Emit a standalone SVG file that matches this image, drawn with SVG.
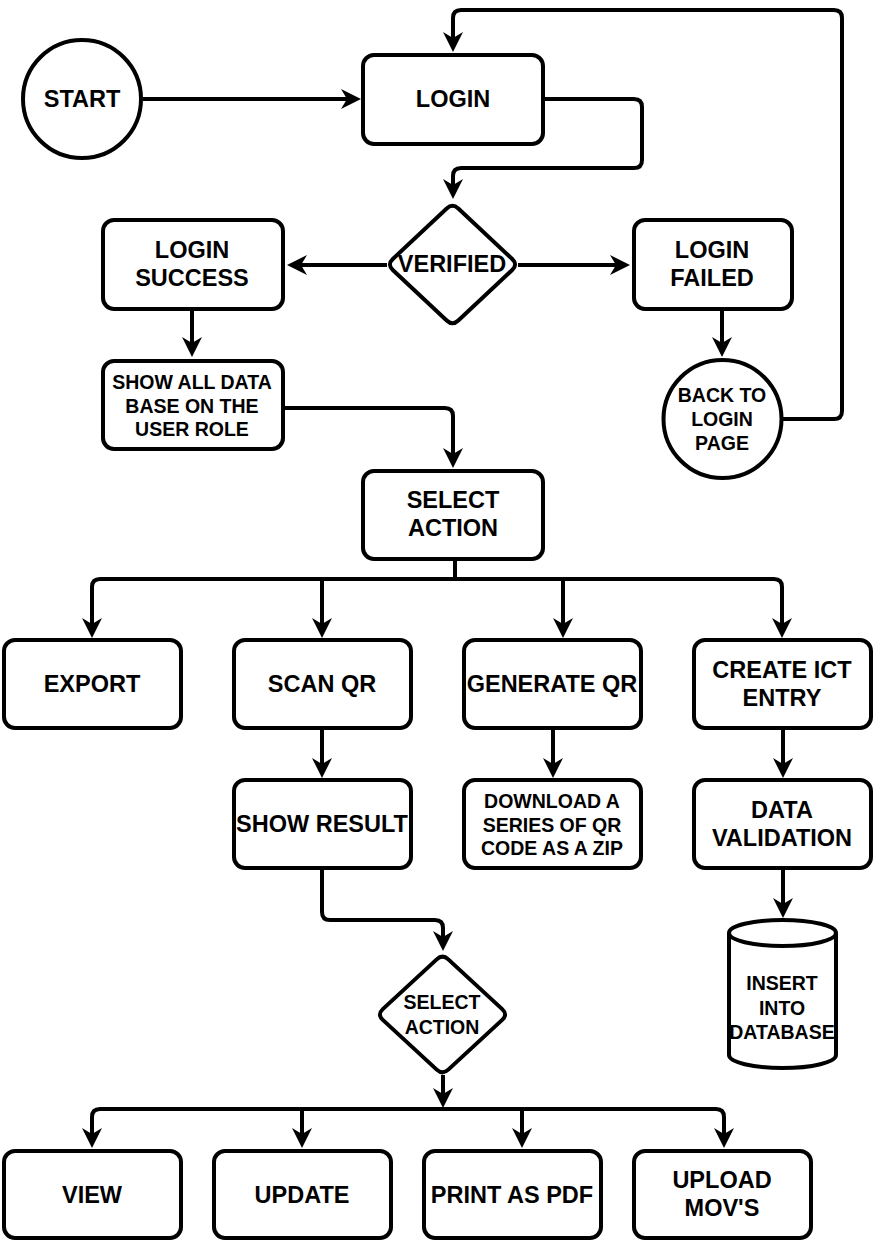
<svg xmlns="http://www.w3.org/2000/svg" width="875" height="1242" viewBox="0 0 875 1242">
<style>
.n{fill:#fff;stroke:#000;stroke-width:4}
.e{fill:none;stroke:#000;stroke-width:4}
text{font-family:"Liberation Sans",Arial,Helvetica,sans-serif;font-weight:bold;fill:#000;text-anchor:middle}
.t{font-size:23.5px}
.s{font-size:19.5px}
</style>
<defs>
<marker id="arr" markerUnits="userSpaceOnUse" viewBox="-14 -11 24 22" markerWidth="24" markerHeight="22" refX="0" refY="0" orient="auto">
<path d="M8,0 L-12,-10 L-6,0 L-12,10 Z" fill="#000"/>
</marker>
</defs>
<rect width="875" height="1242" fill="#fff"/>
<g id="connectors">
<path class="e" d="M143,99 H353" marker-end="url(#arr)"/>
<path class="e" d="M543,99 H634 Q642,99 642,107 V160 Q642,168 634,168 H461 Q453,168 453,176 V191" marker-end="url(#arr)"/>
<path class="e" d="M387,265 H295" marker-end="url(#arr)"/>
<path class="e" d="M518,265 H622" marker-end="url(#arr)"/>
<path class="e" d="M192,309 V349" marker-end="url(#arr)"/>
<path class="e" d="M722,309 V349" marker-end="url(#arr)"/>
<path class="e" d="M781,419 H834 Q842,419 842,411 V18 Q842,10 834,10 H461 Q453,10 453,18 V44" marker-end="url(#arr)"/>
<path class="e" d="M283,408 H445 Q453,408 453,416 V460" marker-end="url(#arr)"/>
<path class="e" d="M455,559 V579 H100 Q92,579 92,587 V630" marker-end="url(#arr)"/>
<path class="e" d="M322,579 V630" marker-end="url(#arr)"/>
<path class="e" d="M563,579 V630" marker-end="url(#arr)"/>
<path class="e" d="M455,559 V579 H774 Q782,579 782,587 V630" marker-end="url(#arr)"/>
<path class="e" d="M322,728 V770" marker-end="url(#arr)"/>
<path class="e" d="M553,728 V770" marker-end="url(#arr)"/>
<path class="e" d="M783,728 V770" marker-end="url(#arr)"/>
<path class="e" d="M322,868 V912 Q322,920 330,920 H435 Q443,920 443,928 V943" marker-end="url(#arr)"/>
<path class="e" d="M783,868 V910" marker-end="url(#arr)"/>
<path class="e" d="M443,1075 V1100" marker-end="url(#arr)"/>
<path class="e" d="M443,1109 H100 Q92,1109 92,1117 V1140" marker-end="url(#arr)"/>
<path class="e" d="M302,1109 V1140" marker-end="url(#arr)"/>
<path class="e" d="M522,1109 V1140" marker-end="url(#arr)"/>
<path class="e" d="M443,1109 H716 Q724,1109 724,1117 V1140" marker-end="url(#arr)"/>
</g>
<g id="start">
<circle class="n" cx="82" cy="99" r="59"/>
<text class="t" x="82" y="107.4">START</text>
</g>
<g id="login">
<rect class="n" x="363" y="55" width="180" height="89" rx="11"/>
<text class="t" x="453" y="107.4">LOGIN</text>
</g>
<g id="verified">
<path class="n" d="M446.7,208.5 Q452.5,203 458.3,208.5 L512.2,259 Q518,264.5 512.2,270 L458.3,320.5 Q452.5,326 446.7,320.5 L392.8,270 Q387,264.5 392.8,259 Z"/>
<text class="t" x="452" y="272.4">VERIFIED</text>
</g>
<g id="login-success">
<rect class="n" x="103" y="220" width="180" height="89" rx="11"/>
<text class="t" x="192" y="258.4">LOGIN</text>
<text class="t" x="192" y="286.4">SUCCESS</text>
</g>
<g id="login-failed">
<rect class="n" x="634" y="220" width="158" height="89" rx="11"/>
<text class="t" x="712" y="258.4">LOGIN</text>
<text class="t" x="712" y="286.4">FAILED</text>
</g>
<g id="back-to-login">
<circle class="n" cx="722.5" cy="419" r="59"/>
<text class="s" x="722" y="402">BACK TO</text>
<text class="s" x="722" y="426">LOGIN</text>
<text class="s" x="722" y="450">PAGE</text>
</g>
<g id="show-all">
<rect class="n" x="103" y="361" width="180" height="88" rx="11"/>
<text class="s" x="192" y="389">SHOW ALL DATA</text>
<text class="s" x="192" y="412.5">BASE ON THE</text>
<text class="s" x="192" y="436">USER ROLE</text>
</g>
<g id="select-action">
<rect class="n" x="363" y="471" width="180" height="88" rx="11"/>
<text class="t" x="453" y="508.4">SELECT</text>
<text class="t" x="453" y="536.4">ACTION</text>
</g>
<g id="export">
<rect class="n" x="4" y="640" width="177" height="88" rx="11"/>
<text class="t" x="92" y="692.4">EXPORT</text>
</g>
<g id="scan-qr">
<rect class="n" x="234" y="640" width="177" height="88" rx="11"/>
<text class="t" x="322" y="692.4">SCAN QR</text>
</g>
<g id="generate-qr">
<rect class="n" x="464" y="640" width="177" height="88" rx="11"/>
<text class="t" x="552" y="692.4">GENERATE QR</text>
</g>
<g id="create-ict">
<rect class="n" x="694" y="640" width="177" height="88" rx="11"/>
<text class="t" x="782" y="678.4">CREATE ICT</text>
<text class="t" x="782" y="706.4">ENTRY</text>
</g>
<g id="show-result">
<rect class="n" x="234" y="780" width="177" height="88" rx="11"/>
<text class="t" x="322" y="832.4">SHOW RESULT</text>
</g>
<g id="download">
<rect class="n" x="464" y="780" width="177" height="88" rx="11"/>
<text class="s" x="552" y="808">DOWNLOAD A</text>
<text class="s" x="552" y="832">SERIES OF QR</text>
<text class="s" x="552" y="855">CODE AS A ZIP</text>
</g>
<g id="data-validation">
<rect class="n" x="694" y="780" width="177" height="88" rx="11"/>
<text class="t" x="782" y="818.4">DATA</text>
<text class="t" x="782" y="846.4">VALIDATION</text>
</g>
<g id="insert-db">
<path class="n" d="M729,933 A53.5,13 0 0 1 836,933 V1055 A53.5,13 0 0 1 729,1055 Z"/>
<path class="e" d="M729,933 A53.5,13 0 0 0 836,933"/>
<text class="s" x="782" y="990">INSERT</text>
<text class="s" x="782" y="1015">INTO</text>
<text class="s" x="782" y="1039">DATABASE</text>
</g>
<g id="select-action-2">
<path class="n" d="M436.7,959.4 Q442.5,954 448.3,959.4 L502.2,1009.1 Q508,1014.5 502.2,1019.9 L448.3,1069.6 Q442.5,1075 436.7,1069.6 L382.8,1019.9 Q377,1014.5 382.8,1009.1 Z"/>
<text class="s" x="442" y="1009">SELECT</text>
<text class="s" x="442" y="1034">ACTION</text>
</g>
<g id="view">
<rect class="n" x="4" y="1151" width="177" height="87" rx="11"/>
<text class="t" x="92" y="1203.4">VIEW</text>
</g>
<g id="update">
<rect class="n" x="214" y="1151" width="177" height="87" rx="11"/>
<text class="t" x="302" y="1203.4">UPDATE</text>
</g>
<g id="print-pdf">
<rect class="n" x="424" y="1151" width="177" height="87" rx="11"/>
<text class="t" x="512" y="1203.4">PRINT AS PDF</text>
</g>
<g id="upload-movs">
<rect class="n" x="634" y="1151" width="177" height="87" rx="11"/>
<text class="t" x="722" y="1188.4">UPLOAD</text>
<text class="t" x="722" y="1216.4">MOV'S</text>
</g>
</svg>
